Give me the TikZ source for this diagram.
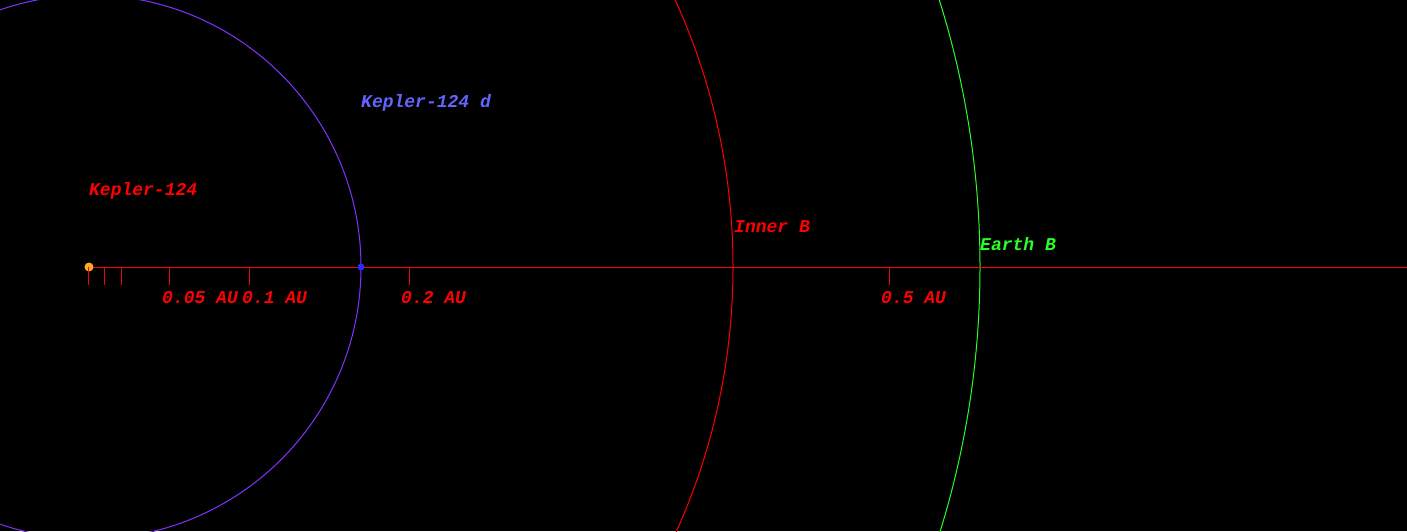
\documentclass[tikz,border=0pt]{standalone}
\usepackage{fontspec}
\setmonofont{Liberation Mono}
\usepackage{xcolor}
\usetikzlibrary{positioning}

\definecolor{orbitpurple}{RGB}{130,50,255}
\definecolor{labelblue}{RGB}{100,100,255}
\definecolor{planetblue}{RGB}{40,40,255}
\definecolor{starorange}{RGB}{255,170,40}
\definecolor{hzgreen}{RGB}{40,255,40}

\begin{document}
\begin{tikzpicture}[
  x = 1pt, y = 1pt,
  font = \ttfamily\bfseries\itshape\fontsize{18}{20}\selectfont,
  lbl/.style = {anchor=base west, inner sep=0pt},
  orbit/.style = {line width=1pt},
  axis/.style = {red, line width=1pt},
  dot/.style = {circle, inner sep=0pt},
]
\fill[black] (-89,-264) rectangle (1318,267);
\useasboundingbox (-89,-264) rectangle (1318,267);
\clip (-89,-264) rectangle (1318,267);

\draw[orbit, orbitpurple] (0,0) circle (272);
\draw[orbit, red] (0,0) circle (644);
\draw[orbit, hzgreen] (0,0) circle (891);

\coordinate (axisend) at (1318,0);
\draw[axis] (0,0) -- (axisend);
\node[dot, fill=starorange, minimum size=9pt] (star) at (0,0) {};
\node[dot, fill=planetblue, minimum size=7pt] (planet) at (272,0) {};

\foreach \t in {0,16,32,80,160,320,800}
  \draw[axis] (\t,0) -- (\t,-18);

\node[lbl, red] (t5) at (73,-36) {0.05 AU};
\node[lbl, red] (t10) at (153,-36) {0.1 AU};
\node[lbl, red] (t20) at (312,-36) {0.2 AU};
\node[lbl, red] (t50) at (792,-36) {0.5 AU};

\node[lbl, red] (starlbl) at (0,72) {Kepler-124};
\node[lbl, labelblue] (planetlbl) at (272,160) {Kepler-124 d};
\node[lbl, red] (innerlbl) at (645,35) {Inner B};
\node[lbl, hzgreen] (earthlbl) at (891,17) {Earth B};
\end{tikzpicture}
\end{document}
